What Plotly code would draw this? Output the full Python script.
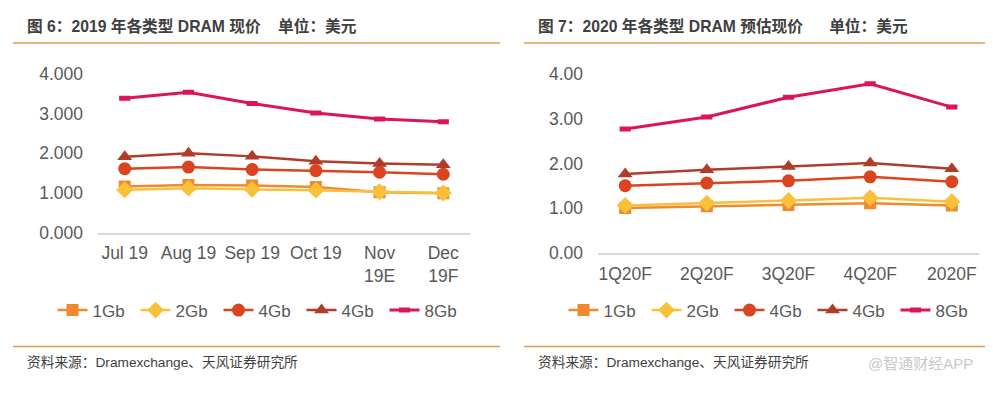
import plotly.graph_objects as go

# The page adds an 8px body margin, so figure pixel = window pixel - 8.
OFF = 8
W, H = 993, 393

# ---- data ----
cats_2019 = ["Jul 19", "Aug 19", "Sep 19", "Oct 19", "Nov<br>19E", "Dec<br>19F"]
gb1_2019 = [1.16, 1.20, 1.19, 1.15, 1.02, 0.99]
gb2_2019 = [1.08, 1.12, 1.09, 1.07, 1.03, 1.00]
gb4c_2019 = [1.61, 1.65, 1.59, 1.56, 1.52, 1.47]
gb4t_2019 = [1.91, 2.00, 1.92, 1.80, 1.74, 1.71]
gb8_2019 = [3.38, 3.53, 3.25, 3.01, 2.86, 2.79]

cats_2020 = ["1Q20F", "2Q20F", "3Q20F", "4Q20F", "2020F"]
gb1_2020 = [1.00, 1.04, 1.07, 1.11, 1.06]
gb2_2020 = [1.06, 1.11, 1.17, 1.23, 1.14]
gb4c_2020 = [1.50, 1.56, 1.61, 1.70, 1.59]
gb4t_2020 = [1.76, 1.86, 1.93, 2.01, 1.88]
gb8_2020 = [2.77, 3.04, 3.48, 3.78, 3.26]

names = ["1Gb", "2Gb", "4Gb", "4Gb", "8Gb"]
colors = ["#F08A2E", "#FBC03A", "#DA4520", "#B03D2A", "#DC1458"]
symbols = ["square", "diamond", "circle", "triangle-up", "line-ew-open"]
msizes = [12, 13, 13, 13, 8]

FONT = "Liberation Sans, Arial, Noto Sans CJK SC, sans-serif"
TXT = "#595959"


def px_x(x):
    return min(max((x - OFF) / W, 0), 1)


def px_y(y):
    return min(max(1 - (y - OFF) / H, 0), 1)


fig = go.Figure()

series_2019 = [gb1_2019, gb2_2019, gb4c_2019, gb4t_2019, gb8_2019]
series_2020 = [gb1_2020, gb2_2020, gb4c_2020, gb4t_2020, gb8_2020]


def add_series(cats, series, xa, ya, lg):
    for i, vals in enumerate(series):
        mk = dict(symbol=symbols[i], size=msizes[i], color=colors[i])
        if symbols[i] == "line-ew-open":
            mk["line"] = dict(color=colors[i], width=5)
        fig.add_trace(go.Scatter(
            x=cats, y=vals, name=names[i], mode="lines+markers",
            line=dict(color=colors[i], width=3 if i == 4 else 2.5),
            marker=mk, xaxis=xa, yaxis=ya, legend=lg))


add_series(cats_2019, series_2019, "x", "y", "legend")
add_series(cats_2020, series_2020, "x2", "y2", "legend2")

axis_common = dict(showgrid=False, zeroline=False, ticks="",
                   tickfont=dict(family=FONT, size=17.5, color=TXT))

legend_common = dict(orientation="h", xanchor="center", yanchor="middle",
                     font=dict(family=FONT, size=17, color=TXT),
                     bgcolor="rgba(0,0,0,0)", itemwidth=30, tracegroupgap=0,
                     entrywidth=38, entrywidthmode="pixels")

fig.update_layout(
    width=W, height=H, margin=dict(l=0, r=0, t=0, b=0),
    paper_bgcolor="white", plot_bgcolor="white",
    font=dict(family=FONT, color=TXT),
    xaxis=dict(domain=[px_x(98), px_x(470)], showline=True, linecolor="#D9D9D9",
               linewidth=1.5, anchor="y", ticklabelstandoff=4, **axis_common),
    yaxis=dict(domain=[px_y(237.7), px_y(65.5)], range=[0, 4.2], dtick=1,
               tickformat=".3f", showline=False, anchor="x",
               ticklabelstandoff=14, **axis_common),
    xaxis2=dict(domain=[px_x(598), px_x(979)], showline=True, linecolor="#D9D9D9",
                linewidth=1.5, anchor="y2", ticklabelstandoff=4, **axis_common),
    yaxis2=dict(domain=[px_y(258.4), px_y(64.8)], range=[0, 4.2], dtick=1,
                tickformat=".2f", showline=False, anchor="x2",
                ticklabelstandoff=14, **axis_common),
    legend=dict(x=px_x(260), y=px_y(318), **legend_common),
    legend2=dict(x=px_x(771), y=px_y(318), **legend_common),
    showlegend=True,
)

LINE_C = "#E09A4C"
shapes = []
for (x0, x1) in [(13, 500), (524, 993)]:
    for yy in (42, 355):
        shapes.append(dict(type="line", xref="paper", yref="paper",
                           x0=px_x(x0), x1=px_x(x1), y0=px_y(yy), y1=px_y(yy),
                           line=dict(color=LINE_C, width=1.5)))
fig.update_layout(shapes=shapes)

TITLE_FONT = dict(family="Liberation Sans, Noto Sans CJK SC, sans-serif", size=15.7, color="#404040")
SRC_FONT = dict(family="Liberation Sans, Noto Sans CJK SC, sans-serif", size=13.7, color="#404040")

fig.add_annotation(text="<b>图 6：2019 年各类型 DRAM 现价    单位：美元</b>",
                   xref="paper", yref="paper", x=px_x(25), y=px_y(25),
                   xanchor="left", yanchor="middle", showarrow=False, font=TITLE_FONT)
fig.add_annotation(text="<b>图 7：2020 年各类型 DRAM 预估现价      单位：美元</b>",
                   xref="paper", yref="paper", x=px_x(536), y=px_y(25),
                   xanchor="left", yanchor="middle", showarrow=False, font=TITLE_FONT)
fig.add_annotation(text="资料来源：Dramexchange、天风证券研究所",
                   xref="paper", yref="paper", x=px_x(25), y=px_y(372),
                   xanchor="left", yanchor="middle", showarrow=False, font=SRC_FONT)
fig.add_annotation(text="资料来源：Dramexchange、天风证券研究所",
                   xref="paper", yref="paper", x=px_x(536), y=px_y(372),
                   xanchor="left", yanchor="middle", showarrow=False, font=SRC_FONT)
fig.add_annotation(text="@智通财经APP",
                   xref="paper", yref="paper", x=px_x(975), y=px_y(373),
                   xanchor="right", yanchor="middle", showarrow=False,
                   font=dict(family="Liberation Sans, Noto Sans CJK SC, sans-serif",
                             size=15, color="#C9C9C9"))

fig.write_html("out.html")
